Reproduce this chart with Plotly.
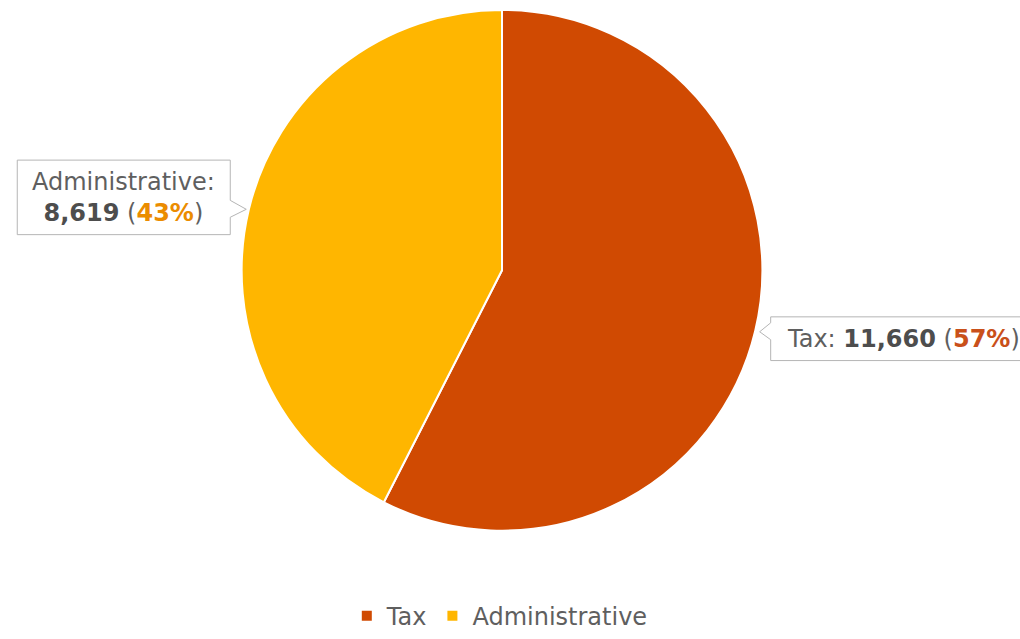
import math
import plotly.graph_objects as go

# Data
categories = ["Tax", "Administrative"]
values = [11660, 8619]
percent_labels = ["57%", "43%"]

# Styling
slice_colors = ["#D04A02", "#FFB600"]
pct_colors = ["#C9501A", "#EB8C00"]
FONT = "DejaVu Sans, Arial, sans-serif"
W, H = 1020, 639

# Pie placement in pixels (margins are zero, so paper == page)
pie_left, pie_right, pie_top, pie_bottom = 240, 764, 10, 534
cx = (pie_left + pie_right) / 2
cy = (pie_top + pie_bottom) / 2
R = (pie_right - pie_left) / 2


def px(x):
    return x / W


def py(y):
    return 1 - y / H


fig = go.Figure(
    go.Pie(
        labels=categories,
        values=values,
        sort=False,
        direction="clockwise",
        rotation=0,
        marker=dict(colors=slice_colors, line=dict(color="white", width=2)),
        textinfo="none",
        hoverinfo="label+value+percent",
        domain=dict(x=[px(pie_left), px(pie_right)], y=[py(pie_bottom), py(pie_top)]),
    )
)

# Callout geometry: side of pie, box size, vertical shift of box relative to tip
callout_style = {
    "Tax": dict(side=1, w=262, h=44, dy=7, gap=3, stem=11),
    "Administrative": dict(side=-1, w=213, h=75, dy=-12, gap=1, stem=16),
}

total = sum(values)
cum = 0
shapes, annotations = [], []
for name, v, pct, pcol in zip(categories, values, percent_labels, pct_colors):
    mid = (cum + v / 2) / total * 2 * math.pi
    cum += v
    st = callout_style[name]
    tx = cx + (R + st["gap"]) * math.sin(mid)
    ty = cy - (R + st["gap"]) * math.cos(mid)
    s = st["side"]
    near = tx + s * st["stem"]
    far = near + s * st["w"]
    bcy = ty + st["dy"]
    top, bot = bcy - st["h"] / 2, bcy + st["h"] / 2
    b1, b2 = ty - 9, ty + 8
    pts = [(near, top), (far, top), (far, bot), (near, bot), (near, b2), (tx, ty), (near, b1)]
    path = "M " + " L ".join(f"{px(a):.5f},{py(b):.5f}" for a, b in pts) + " Z"
    shapes.append(dict(type="path", xref="paper", yref="paper", path=path,
                       fillcolor="white", line=dict(color="#B5B5B5", width=1), layer="above"))
    value_txt = f"{v:,}"
    if name == "Administrative":
        text = (f"{name}:<br><b style='color:#4D4D4D'>{value_txt}</b> "
                f"(<b style='color:{pcol}'>{pct}</b>)")
        xc = (near + far) / 2
        xanchor = "center"
    else:
        text = (f"{name}: <b style='color:#4D4D4D'>{value_txt}</b> "
                f"(<b style='color:{pcol}'>{pct}</b>)")
        xc = near + 14
        xanchor = "left"
    annotations.append(dict(
        x=px(xc), y=py(bcy), xref="paper", yref="paper",
        xanchor=xanchor, yanchor="middle", showarrow=False, align="center",
        text=text, font=dict(family=FONT, size=24, color="#5F5F5F"),
    ))

fig.update_layout(
    width=W, height=H,
    margin=dict(l=0, r=0, t=0, b=0),
    paper_bgcolor="white", plot_bgcolor="white",
    shapes=shapes, annotations=annotations,
    showlegend=True,
    legend=dict(orientation="h", x=0.49, xanchor="center", y=py(620), yanchor="middle",
                font=dict(family=FONT, size=24, color="#5F5F5F"),
                bgcolor="rgba(0,0,0,0)"),
)

fig.write_html("out.html")
